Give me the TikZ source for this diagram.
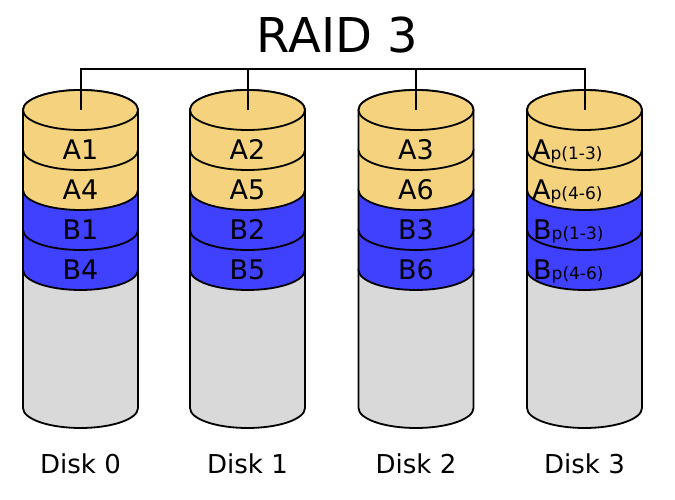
\documentclass[tikz,border=0pt]{standalone}
\usepackage{fontspec}
\setmainfont{DejaVu Sans}
\definecolor{stripeA}{HTML}{F4D27E}
\definecolor{stripeB}{HTML}{4040FF}
\definecolor{freespace}{HTML}{D9D9D9}
\tikzset{
  band/.style={draw=black,line width=1.8pt,line join=round},
  lbl/.style={anchor=base,inner sep=0pt,font=\fontsize{27}{27}\selectfont},
  bus/.style={draw=black,line width=2pt},
}
% one slice of a disk: centre x, top y, bottom y, colour
\newcommand{\diskband}[4]{%
  \filldraw[band,fill=#4] (#1-57.5,#2) -- (#1-57.5,#3)
    arc[start angle=180,end angle=360,x radius=57.5,y radius=20]
    -- (#1+57.5,#2)
    arc[start angle=0,end angle=180,x radius=57.5,y radius=20] -- cycle;}
\newcommand{\psub}[1]{{\fontsize{17}{17}\selectfont #1}}
\begin{document}
\begin{tikzpicture}[x=1pt,y=1pt]
        \useasboundingbox (0,0) rectangle (675,500);
        \node[anchor=base,inner sep=0pt,font=\fontsize{48}{48}\selectfont] (title) at (337.5,447.3) {RAID 3};
        % the four disks
        \foreach \cx/\n in {80.5/0,247.5/1,416/2,584.5/3} {
          \diskband{\cx}{230}{92}{freespace}
          \diskband{\cx}{270}{230}{stripeB}
          \diskband{\cx}{310}{270}{stripeB}
          \diskband{\cx}{350}{310}{stripeA}
          \diskband{\cx}{390}{350}{stripeA}
          \filldraw[band,fill=stripeA] (\cx,390) ellipse[x radius=57.5,y radius=20];
          \coordinate (top\n) at (\cx,390);
          \coordinate (bus\n) at (\cx,430.5);
          \node[anchor=base,inner sep=0pt,font=\fontsize{26}{26}\selectfont] (disk\n) at (\cx,26.7) {Disk \n};
        }
        % data blocks
        \foreach \cx/\la/\lb/\lc/\ld in {80.5/A1/A4/B1/B4,247.5/A2/A5/B2/B5,416/A3/A6/B3/B6} {
          \node[lbl] (\la) at (\cx,340.5) {\la};
          \node[lbl] (\lb) at (\cx,300.5) {\lb};
          \node[lbl] (\lc) at (\cx,260.5) {\lc};
          \node[lbl] (\ld) at (\cx,220.5) {\ld};
        }
        % parity blocks
        \node[lbl,anchor=base west] (ap13) at (532,340.5) {A\psub{p(1-3)}};
        \node[lbl,anchor=base west] (ap46) at (532,300.5) {A\psub{p(4-6)}};
        \node[lbl,anchor=base west] (bp13) at (533,260.5) {B\psub{p(1-3)}};
        \node[lbl,anchor=base west] (bp46) at (533,220.5) {B\psub{p(4-6)}};
        % controller lines
        \draw[bus] (top0) -- (bus0) -- (bus3) -- (top3);
        \draw[bus] (bus1) -- (top1);
        \draw[bus] (bus2) -- (top2);
\end{tikzpicture}
\end{document}
